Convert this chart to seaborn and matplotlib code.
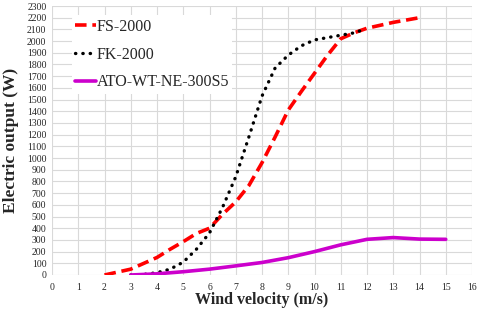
import matplotlib
matplotlib.use("Agg")
import matplotlib.pyplot as plt
import seaborn as sns
import pandas as pd

fs_x = [2, 3, 4, 4.5, 5, 5.5, 6, 6.5, 7, 7.5, 8, 8.5, 9, 9.5, 10, 10.5, 11, 11.5, 12, 13, 14]
fs_y = [0, 50, 150, 220, 285, 355, 400, 520, 625, 765, 960, 1180, 1410, 1570, 1725, 1880, 2020, 2070, 2110, 2160, 2200]

fk_x = [3, 3.5, 4, 4.5, 5, 5.5, 6, 6.5, 7, 7.5, 8, 8.5, 9, 9.5, 10, 10.5, 11, 11.5, 11.9]
fk_y = [0, 5, 20, 50, 110, 220, 360, 580, 840, 1180, 1530, 1770, 1880, 1960, 2010, 2030, 2050, 2070, 2100]

ato_x = [3, 4, 5, 6, 7, 8, 9, 10, 11, 12, 13, 14, 15]
ato_y = [0, 10, 28, 50, 78, 107, 148, 200, 258, 305, 320, 307, 305]

labels = ["FS-2000", "FK-2000", "ATO-WT-NE-300S5"]

df = pd.concat([
    pd.DataFrame({"x": fs_x, "y": fs_y, "s": labels[0]}),
    pd.DataFrame({"x": fk_x, "y": fk_y, "s": labels[1]}),
    pd.DataFrame({"x": ato_x, "y": ato_y, "s": labels[2]}),
])

sns.set_style("white")
plt.rcParams['font.family'] = ['Liberation Serif', 'DejaVu Serif']

fig = plt.figure(figsize=(4.8, 3.12), dpi=100)
ax = fig.add_axes([52/480, 37/312, 420/480, 269/312])

styles = {
    labels[0]: dict(color="#ff0000", lw=2.6, ls=(0, (3.2, 1.6))),
    labels[1]: dict(color="#000000", lw=2.4, ls=(0, (0.1, 2.1)), dash_capstyle="round"),
    labels[2]: dict(color="#cc00cc", lw=2.6, ls="-"),
}
for lab in labels:
    st = styles[lab]
    sns.lineplot(data=df[df.s == lab], x="x", y="y", ax=ax, label=lab,
                 color=st["color"], linewidth=st["lw"], linestyle=st["ls"],
                 dash_capstyle=st.get("dash_capstyle", "butt"), sort=False)

ax.set_xlim(0, 16)
ax.set_ylim(0, 2300)
ax.set_xticks(range(0, 17))
ax.set_yticks(range(0, 2301, 100))
ax.tick_params(axis="both", labelsize=7, length=0)
ax.tick_params(axis="x", pad=6)
ax.tick_params(axis="y", pad=4)
ax.grid(True, color="#d9d9d9", linewidth=0.8)
for sp in ax.spines.values():
    sp.set_visible(False)
ax.set_xlabel("Wind velocity (m/s)", fontsize=11.5, fontweight="bold", labelpad=0)
ax.set_ylabel("Electric output (W)", fontsize=12.5, fontweight="bold", labelpad=1)
ax.yaxis.set_label_coords(-0.078, 0.5)

leg = ax.legend(loc="upper left", bbox_to_anchor=(0.028, 0.995), frameon=True,
                fontsize=11.5, handlelength=1.3, handletextpad=0.05,
                labelspacing=0.75, borderpad=0.2)
leg.get_frame().set_edgecolor("none")
leg.get_frame().set_facecolor("white")
leg.get_frame().set_alpha(1)

fig.savefig("out.png", dpi=100)
